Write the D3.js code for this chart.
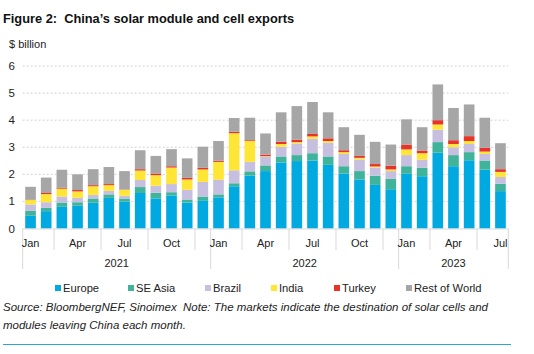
<!DOCTYPE html>
<html><head><meta charset="utf-8">
<script src="https://cdn.jsdelivr.net/npm/d3@7"></script>
<style>body{margin:0;background:#fff;}svg{display:block;font-family:"Liberation Sans",Arial,sans-serif;}text{white-space:pre;}</style>
</head><body><div id="chart"></div>
<script>
const months = ["Jan","Feb","Mar","Apr","May","Jun","Jul","Aug","Sep","Oct","Nov","Dec",
  "Jan","Feb","Mar","Apr","May","Jun","Jul","Aug","Sep","Oct","Nov","Dec",
  "Jan","Feb","Mar","Apr","May","Jun","Jul"];
const years = ["2021","2022","2023"];
const seriesNames = ["Europe","SE Asia","Brazil","India","Turkey","Rest of World"];
const colors = ["#00a9e0","#40b39b","#c7bfdf","#ffe536","#e8332a","#a6a6a6"];
const europe = [0.47,0.64,0.80,0.84,0.95,1.13,0.99,1.31,1.11,1.22,0.96,1.02,1.15,1.56,1.95,2.12,2.44,2.49,2.51,2.35,2.03,1.81,1.61,1.45,2.02,1.93,2.80,2.30,2.52,2.17,1.38];
const seAsia = [0.18,0.12,0.16,0.13,0.16,0.13,0.12,0.22,0.21,0.12,0.11,0.16,0.11,0.11,0.16,0.21,0.22,0.22,0.27,0.31,0.27,0.31,0.34,0.38,0.28,0.31,0.39,0.41,0.30,0.34,0.27];
const brazil = [0.24,0.21,0.22,0.16,0.13,0.13,0.10,0.26,0.26,0.30,0.36,0.54,0.54,0.48,0.35,0.32,0.36,0.43,0.53,0.51,0.45,0.43,0.30,0.29,0.41,0.30,0.46,0.29,0.30,0.24,0.25];
const india = [0.16,0.30,0.29,0.24,0.32,0.21,0.22,0.35,0.39,0.61,0.38,0.46,0.66,1.37,0.77,0.02,0.10,0.05,0.09,0.06,0.07,0.06,0.04,0.06,0.21,0.24,0.19,0.12,0.11,0.09,0.19];
const turkey = [0.01,0.04,0.04,0.05,0.04,0.04,0.01,0.05,0.06,0.05,0.06,0.06,0.04,0.05,0.03,0.06,0.08,0.09,0.09,0.10,0.07,0.07,0.09,0.14,0.18,0.10,0.16,0.14,0.18,0.14,0.10];
const restOfWorld = [0.48,0.57,0.66,0.58,0.59,0.63,0.68,0.70,0.65,0.63,0.72,0.78,0.73,0.51,0.83,0.78,1.09,1.24,1.18,0.96,0.85,0.78,0.82,0.78,0.93,0.86,1.32,1.19,1.17,1.11,0.96];
const yTicks = [0,1,2,3,4,5,6];

const W = 534, H = 354;
const svg = d3.select("#chart").append("svg").attr("width", W).attr("height", H);
const x0 = 22.7, x1 = 508.3, yTop = 66, yBot = 228.5;

const rows = months.map((m,i)=>({i, Europe:europe[i], "SE Asia":seAsia[i], Brazil:brazil[i], India:india[i], Turkey:turkey[i], "Rest of World":restOfWorld[i]}));
const stack = d3.stack().keys(seriesNames)(rows);

const x = d3.scaleBand().domain(d3.range(months.length)).range([x0, x1]).paddingInner(0.32).paddingOuter(0.16);
const y = d3.scaleLinear().domain([0,6]).range([yBot, yTop]);

svg.append("text").attr("x",3).attr("y",23).attr("font-size",12.8).attr("font-weight","bold").attr("fill","#111")
  .text("Figure 2:  China\u2019s solar module and cell exports");
svg.append("text").attr("x",9).attr("y",47.5).attr("font-size",11).attr("fill","#222").text("$ billion");

// gridlines
svg.append("g").selectAll("line").data(yTicks.filter(d=>d>0)).join("line")
  .attr("x1",x0).attr("x2",x1).attr("y1",d=>y(d)).attr("y2",d=>y(d))
  .attr("stroke","#c8c8c8").attr("stroke-width",0.8).attr("stroke-dasharray","2,2");
// y labels
svg.append("g").selectAll("text").data(yTicks).join("text")
  .attr("x",15).attr("y",d=>y(d)+4).attr("text-anchor","end").attr("font-size",11.5).attr("fill","#222").text(d=>d);

// bars
svg.append("g").selectAll("g").data(stack).join("g").attr("fill",(d,i)=>colors[i])
  .selectAll("rect").data(d=>d).join("rect")
  .attr("x",d=>x(d.data.i)).attr("width",x.bandwidth())
  .attr("y",d=>y(d[1])).attr("height",d=>Math.max(0,y(d[0])-y(d[1])));

// axis
const step = x.step();
svg.append("line").attr("x1",x0).attr("x2",x1).attr("y1",yBot+0.5).attr("y2",yBot+0.5).attr("stroke","#d9d9d9");
const bounds = d3.range(months.length+1);
svg.append("g").selectAll("line").data(bounds.filter(k=>k%12===0||k===months.length||k%3===2)).join("line")
  .attr("x1",k=>x0+k*step).attr("x2",k=>x0+k*step)
  .attr("y1",yBot).attr("y2",k=>(k%12===0||k===months.length)?269:250)
  .attr("stroke","#d9d9d9").attr("stroke-width",1);
svg.append("g").selectAll("text").data(months.map((m,i)=>({m,i})).filter(d=>d.i%3===0)).join("text")
  .attr("x",d=>x(d.i)+x.bandwidth()/2).attr("y",247).attr("text-anchor","middle").attr("font-size",11).attr("fill","#222").text(d=>d.m);
const yearStart = [0,12,24], yearEnd=[12,24,31];
svg.append("g").selectAll("text").data(years).join("text")
  .attr("x",(d,i)=>x0+(yearStart[i]+yearEnd[i])/2*step).attr("y",267).attr("text-anchor","middle").attr("font-size",11).attr("fill","#222").text(d=>d);

// legend
const legX = [55,128,205,271,334,406];
const lg = svg.append("g").selectAll("g").data(seriesNames).join("g").attr("transform",(d,i)=>`translate(${legX[i]},288)`);
lg.append("rect").attr("x",0).attr("y",-3).attr("width",6).attr("height",6).attr("fill",(d,i)=>colors[i]);
lg.append("text").attr("x",8).attr("y",4).attr("font-size",11.2).attr("fill","#222").text(d=>d);

// footnote
const fn = svg.append("text").attr("font-size",11.5).attr("font-style","italic").attr("fill","#222");
fn.append("tspan").attr("x",3).attr("y",311).text("Source: BloombergNEF, Sinoimex  Note: The markets indicate the destination of solar cells and");
fn.append("tspan").attr("x",3).attr("y",329).text("modules leaving China each month.");
svg.append("line").attr("x1",3).attr("x2",511).attr("y1",344.5).attr("y2",344.5).attr("stroke","#2aa8c8").attr("stroke-width",1.2);
</script></body></html>
